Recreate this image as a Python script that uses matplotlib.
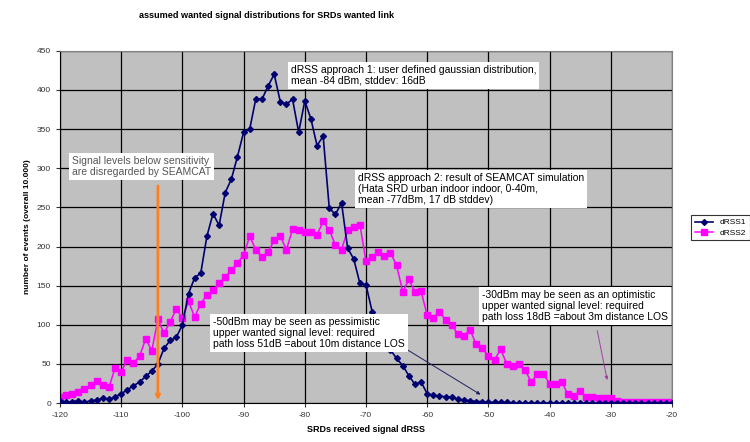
import matplotlib
matplotlib.use('Agg')
import matplotlib.pyplot as plt

plt.rcParams['font.family'] = ['Liberation Sans', 'DejaVu Sans']
plt.rcParams['axes.unicode_minus'] = False

# received signal level bins (dB)
drss = list(range(-120, -19))

# dRSS1: user defined gaussian distribution
drss1 = [3, 1, 2, 3, 1, 3, 4, 6, 5, 8,
         12, 17, 22, 27, 34, 41, 50, 70, 80, 84,
         100, 140, 160, 166, 213, 242, 227, 269, 286, 315,
         346, 350, 389, 388, 405, 420, 385, 382, 388, 346,
         386, 363, 329, 341, 249, 241, 256, 198, 184, 153,
         151, 117, 98, 82, 68, 57, 48, 35, 24, 27,
         12, 10, 9, 8, 8, 5, 4, 3, 2, 2,
         1, 1, 1, 1, 0, 0, 0, 0, 0, 0,
         0, 0, 0, 0, 0, 0, 0, 0, 0, 0,
         0, 0, 0, 0, 0, 0, 0, 0, 0, 0, 0]

# dRSS2: SEAMCAT simulation result
drss2 = [8, 10, 12, 14, 18, 23, 28, 23, 20, 45,
         40, 55, 51, 60, 82, 67, 107, 89, 104, 120,
         109, 130, 110, 127, 138, 144, 153, 161, 170, 179,
         189, 213, 196, 187, 193, 208, 213, 196, 222, 221,
         219, 219, 215, 232, 221, 202, 196, 221, 225, 228,
         181, 186, 193, 188, 192, 176, 142, 158, 142, 143,
         112, 109, 117, 106, 100, 88, 86, 94, 75, 70,
         60, 55, 69, 50, 47, 50, 42, 27, 37, 37,
         25, 24, 27, 11, 9, 16, 8, 8, 6, 7,
         6, 3, 2, 2, 2, 2, 2, 2, 2, 2, 2]

fig = plt.figure(figsize=(7.5, 4.42), dpi=100)
ax = fig.add_axes([0.08, 0.088, 0.816, 0.797])
ax.set_facecolor('#c0c0c0')

ax.plot(drss, drss1, color='#000070', marker='D', markersize=3, linewidth=1.2, label='dRSS1', zorder=3)
ax.plot(drss, drss2, color='#ff00ff', marker='s', markersize=4.5, linewidth=1.1, label='dRSS2', zorder=2.5)

ax.set_xlim(-120, -20)
ax.set_ylim(0, 450)
ax.set_xticks(range(-120, -19, 10))
ax.set_yticks(range(0, 451, 50))
ax.grid(True, color='black', linewidth=0.9)
ax.set_axisbelow(True)
ax.tick_params(labelsize=6, length=3, width=0.8, direction='out', colors='#333333')
for s in ['top', 'right']:
    ax.spines[s].set_color('#808080')
for s in ['left', 'bottom']:
    ax.spines[s].set_color('black')

ax.set_xlabel('SRDs received signal dRSS', fontsize=6.5, fontweight='bold', labelpad=4)
ax.set_ylabel('number of events (overall 10.000)', fontsize=6, fontweight='bold', labelpad=4)
fig.text(0.356, 0.966, 'assumed wanted signal distributions for SRDs wanted link',
         ha='center', va='center', fontsize=6.6, fontweight='bold')

box = dict(facecolor='white', edgecolor='none', boxstyle='square,pad=0.3')
fs = 7.5
ls = 1.1
ax.text(-82.3, 432, 'dRSS approach 1: user defined gaussian distribution,\nmean -84 dBm, stddev: 16dB',
        fontsize=fs, va='top', ha='left', bbox=box, zorder=5, linespacing=ls)
ax.text(-71.3, 294, 'dRSS approach 2: result of SEAMCAT simulation\n(Hata SRD urban indoor indoor, 0-40m,\nmean -77dBm, 17 dB stddev)',
        fontsize=fs, va='top', ha='left', bbox=box, zorder=5, linespacing=ls)
ax.text(-118, 316, 'Signal levels below sensitivity\nare disregarded by SEAMCAT',
        fontsize=fs, va='top', ha='left', bbox=box, zorder=5, color='#555555', linespacing=ls)
ax.text(-95, 110, '-50dBm may be seen as pessimistic\nupper wanted signal level: required\npath loss 51dB =about 10m distance LOS',
        fontsize=fs, va='top', ha='left', bbox=box, zorder=5, linespacing=ls)
ax.text(-51, 144, '-30dBm may be seen as an optimistic\nupper wanted signal level: required\npath loss 18dB =about 3m distance LOS',
        fontsize=fs, va='top', ha='left', bbox=box, zorder=5, linespacing=ls)

# sensitivity marker and pointers
ax.annotate('', xy=(-104, 0), xytext=(-104, 281),
            arrowprops=dict(arrowstyle='-|>', color='#ff8020', lw=2, mutation_scale=6), zorder=4)
ax.annotate('', xy=(-50.9, 9), xytext=(-67.2, 87),
            arrowprops=dict(arrowstyle='-|>', color='#202060', lw=0.7, mutation_scale=5), zorder=4)
ax.annotate('', xy=(-30.5, 26), xytext=(-32.3, 96),
            arrowprops=dict(arrowstyle='-|>', color='#a040a0', lw=0.7, mutation_scale=5), zorder=4)

leg = ax.legend(loc='upper left', bbox_to_anchor=(1.025, 0.545), fontsize=6,
                frameon=True, fancybox=False, edgecolor='black', borderpad=0.4,
                handlelength=2.2, labelspacing=0.3)
leg.get_frame().set_linewidth(0.8)

plt.savefig('out.png', dpi=100)
